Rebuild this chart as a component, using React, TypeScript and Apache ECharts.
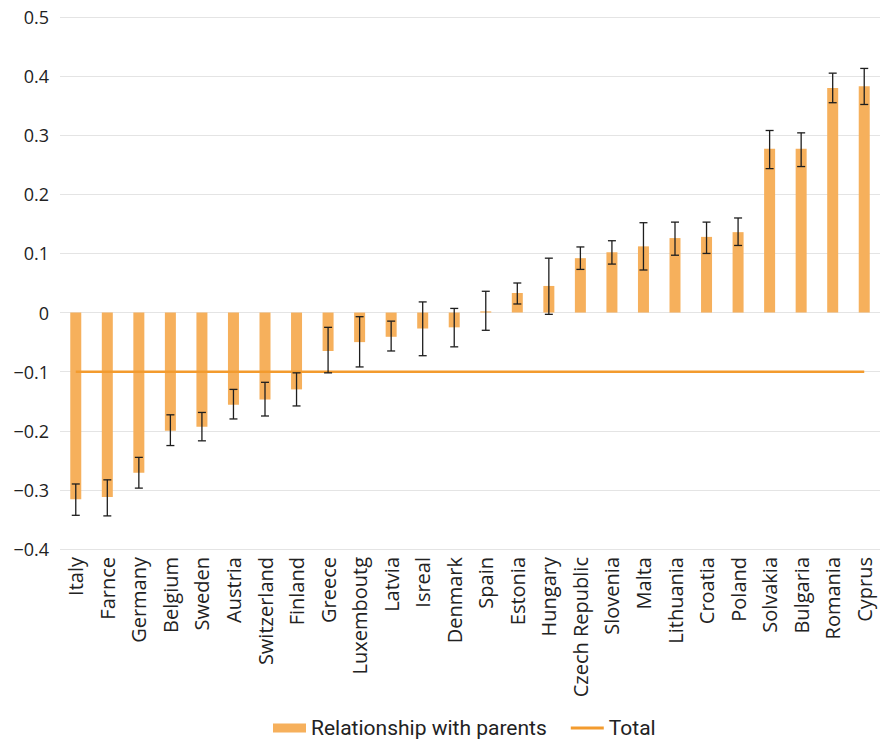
import React, { useEffect, useRef } from "react";
import * as echarts from "echarts";

const countries = [
  "Italy", "Farnce", "Germany", "Belgium", "Sweden", "Austria", "Switzerland",
  "Finland", "Greece", "Luxemboutg", "Latvia", "Isreal", "Denmark", "Spain",
  "Estonia", "Hungary", "Czech Republic", "Slovenia", "Malta", "Lithuania",
  "Croatia", "Poland", "Solvakia", "Bulgaria", "Romania", "Cyprus",
];

const relationshipValues = [
  -0.316, -0.312, -0.271, -0.2, -0.193, -0.156, -0.147, -0.13, -0.065, -0.05,
  -0.041, -0.027, -0.025, 0.002, 0.033, 0.045, 0.092, 0.102, 0.112, 0.126,
  0.128, 0.136, 0.277, 0.277, 0.38, 0.383,
];

const errorLow = [
  -0.343, -0.344, -0.297, -0.225, -0.217, -0.18, -0.175, -0.158, -0.102, -0.092,
  -0.065, -0.073, -0.058, -0.03, 0.0145, -0.003, 0.073, 0.082, 0.072, 0.097,
  0.1, 0.1135, 0.2435, 0.247, 0.355, 0.352,
];

const errorHigh = [
  -0.29, -0.283, -0.245, -0.173, -0.169, -0.13, -0.118, -0.102, -0.025, -0.007,
  -0.0145, 0.018, 0.007, 0.036, 0.05, 0.092, 0.111, 0.1215, 0.152, 0.153,
  0.153, 0.16, 0.308, 0.304, 0.405, 0.413,
];

const totalValues = [
  -0.1, -0.1, -0.1, -0.1, -0.1, -0.1, -0.1, -0.1, -0.1, -0.1, -0.1, -0.1, -0.1,
  -0.1, -0.1, -0.1, -0.1, -0.1, -0.1, -0.1, -0.1, -0.1, -0.1, -0.1, -0.1, -0.1,
];

const BAR_COLOR = "#F6B05C";
const LINE_COLOR = "#F39B2E";

export default function App() {
  const ref = useRef<HTMLDivElement>(null);

  useEffect(() => {
    if (!ref.current) return;
    const chart = echarts.init(ref.current, null, { renderer: "svg" });

    const errorData = countries.map((_, i) => [i, errorLow[i], errorHigh[i]]);

    chart.setOption({
      animation: false,
      backgroundColor: "#ffffff",
      grid: { left: 60, right: 2, top: 17, bottom: 195, containLabel: false },
      legend: {
        left: 273,
        top: 716,
        padding: 0,
        itemWidth: 33,
        itemHeight: 9,
        itemGap: 24,
        symbolKeepAspect: true,
        textStyle: {
          fontFamily: "Roboto",
          fontSize: 21,
          lineHeight: 24,
          color: "#222",
        },
        data: [
          { name: "Relationship with parents", icon: "rect" },
          { name: "Total", icon: "path://M0,0L33,0L33,3L0,3Z" },
        ],
      },
      xAxis: {
        type: "category",
        data: countries,
        axisLine: { show: false },
        axisTick: { show: false },
        axisLabel: {
          rotate: 90,
          margin: 8,
          interval: 0,
          fontFamily: "Open Sans",
          fontSize: 20,
          color: "#222",
        },
      },
      yAxis: {
        type: "value",
        min: -0.4,
        max: 0.5,
        interval: 0.1,
        axisLine: { show: false },
        axisTick: { show: false },
        splitLine: { lineStyle: { color: "#e4e4e4", width: 1.2 } },
        axisLabel: {
          margin: 11,
          fontFamily: "Open Sans",
          fontSize: 18,
          color: "#222",
          formatter: (v: number) => {
            const r = Math.round(v * 10) / 10;
            if (r === 0) return "0";
            return (r < 0 ? "\u2212" : "") + Math.abs(r).toFixed(1);
          },
        },
      },
      series: [
        {
          name: "Relationship with parents",
          type: "bar",
          data: relationshipValues,
          barWidth: 11,
          itemStyle: { color: BAR_COLOR },
        },
        {
          name: "Total",
          type: "line",
          data: totalValues,
          symbol: "none",
          showSymbol: false,
          lineStyle: { color: LINE_COLOR, width: 2.5 },
          itemStyle: { color: LINE_COLOR },
          z: 3,
        },
        {
          name: "error",
          type: "custom",
          data: errorData,
          encode: { x: 0, y: [1, 2] },
          z: 4,
          renderItem: (params: any, api: any) => {
            const idx = api.value(0);
            const lo = api.coord([idx, api.value(1)]);
            const hi = api.coord([idx, api.value(2)]);
            const x = lo[0];
            const hw = 4;
            const style = { stroke: "#1e1e1e", lineWidth: 1.3 };
            return {
              type: "group",
              children: [
                { type: "line", shape: { x1: x, y1: lo[1], x2: x, y2: hi[1] }, style },
                { type: "line", shape: { x1: x - hw, y1: lo[1], x2: x + hw, y2: lo[1] }, style },
                { type: "line", shape: { x1: x - hw, y1: hi[1], x2: x + hw, y2: hi[1] }, style },
              ],
            };
          },
        },
      ],
    });

    return () => chart.dispose();
  }, []);

  return (
    <div
      ref={ref}
      style={{ position: "fixed", left: 0, top: 0, width: 882, height: 744 }}
    />
  );
}
